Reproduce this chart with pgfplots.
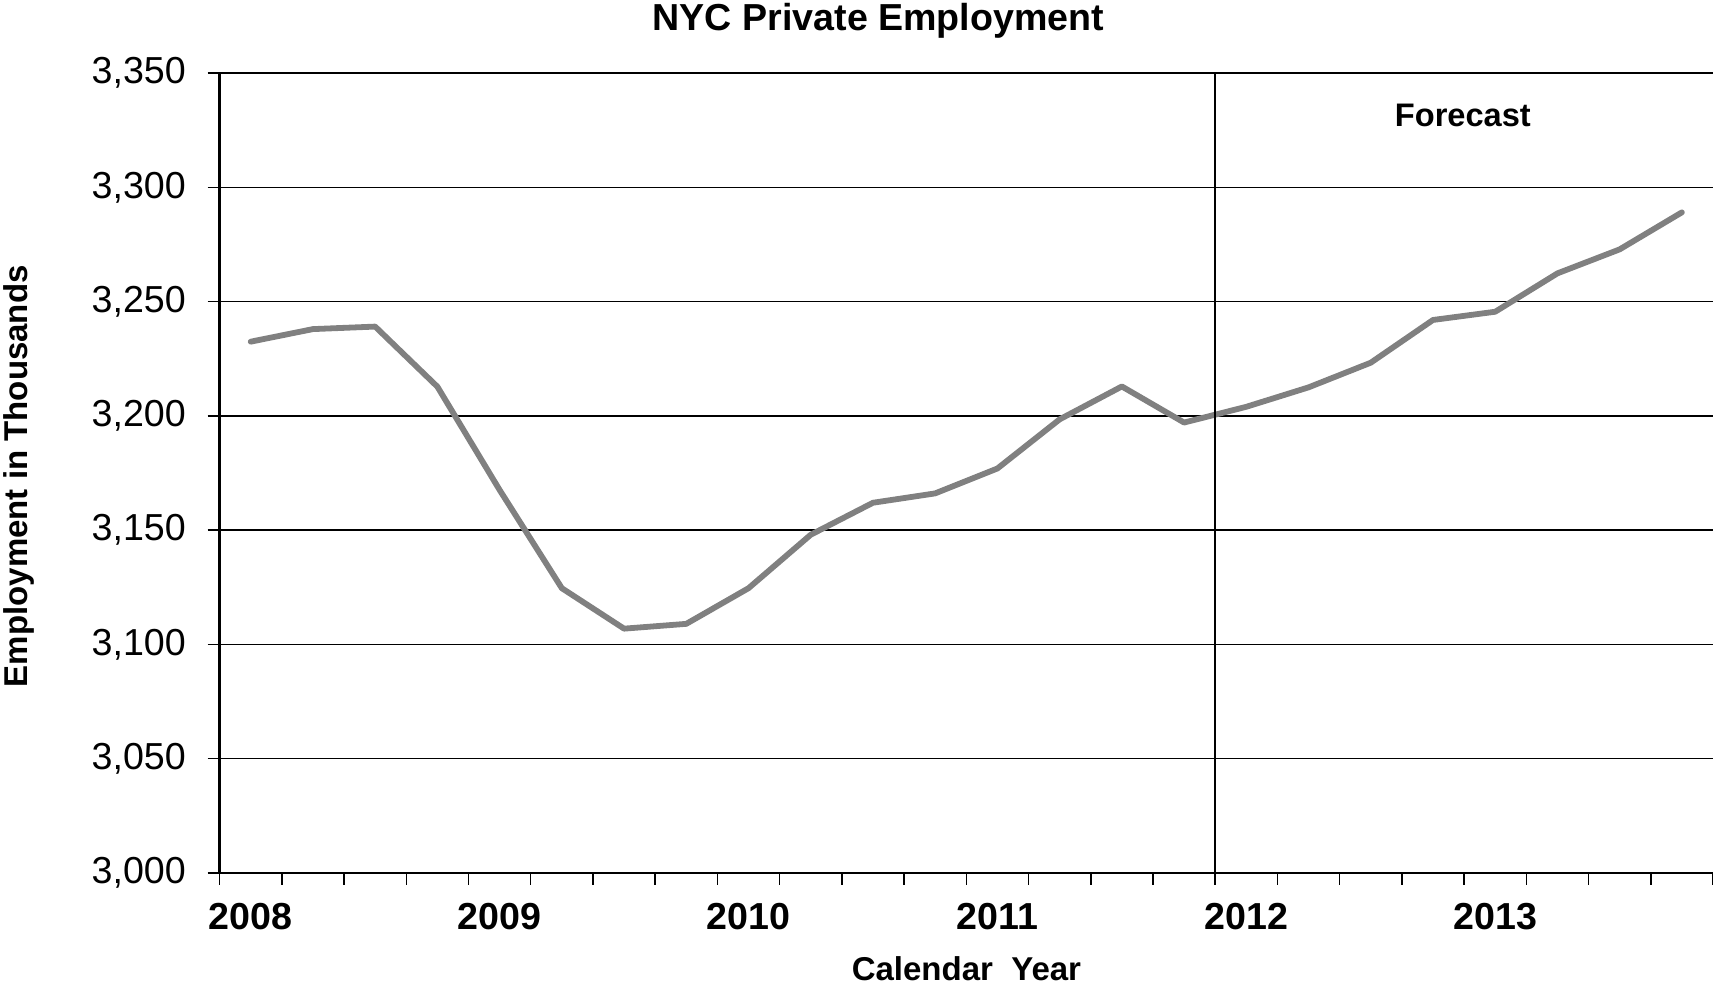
\documentclass[border=0pt]{standalone}
\usepackage{fontspec}
\setmainfont{Liberation Sans}
\usepackage{pgfplots}
\pgfplotsset{compat=1.18}
\definecolor{linegray}{RGB}{128,128,128}
\begin{document}
\begin{tikzpicture}
\path[use as bounding box] (0,0) rectangle (856.5bp,493bp);
\begin{axis}[
  at={(109.8bp,56.55bp)}, anchor=south west,
  scale only axis, width=746.7bp, height=399.85bp,
  xmin=-0.5, xmax=23.5, ymin=3000, ymax=3350,
  axis lines*=left,
  axis line style={black, line width=1.25bp},
  ytick={3000,3050,...,3350},
  scaled y ticks=false,
  /pgf/number format/assume math mode=true,
  /pgf/number format/1000 sep={,},
  ymajorgrids,
  major grid style={black, line width=0.75bp},
  xtick={-0.5,0.5,...,23.5},
  xticklabels={},
  extra x ticks={0,4,8,12,16,20},
  extra x tick labels={2008,2009,2010,2011,2012,2013},
  extra x tick style={major tick length=0pt, grid=none,
     xticklabel style={font=\bfseries\fontsize{18.8bp}{20bp}\selectfont, anchor=north, inner sep=0pt, yshift=-14.75bp}},
  tick align=outside,
  major tick length=6bp,
  tick style={black, line width=0.75bp},
  yticklabel style={font=\fontsize{18.8bp}{20bp}\selectfont, anchor=east, inner sep=0pt, xshift=-10.7bp},
  clip=false,
]
\addplot[color=linegray, line width=2.9bp, line join=round, line cap=round] coordinates {
 (0,3232.5) (1,3238.0) (2,3239.1) (3,3212.8) (4,3167.6) (5,3124.6)
 (6,3106.9) (7,3109.0) (8,3124.6) (9,3148.0) (10,3162.0) (11,3166.1)
 (12,3177.0) (13,3198.5) (14,3212.9) (15,3197.1) (16,3204.0) (17,3212.5)
 (18,3223.3) (19,3242.0) (20,3245.6) (21,3262.4) (22,3272.9) (23,3289.1)
};
\draw[black, line width=1bp] (axis cs:15.5,3000) -- (axis cs:15.5,3350);
\node[font=\bfseries\fontsize{16.3bp}{18bp}\selectfont] at (axis cs:19.48,3331.4) {Forecast};
\end{axis}
\node[font=\bfseries\fontsize{18.8bp}{20bp}\selectfont] at (439.2bp,482.6bp) {NYC Private Employment};
\node[font=\bfseries\fontsize{16.5bp}{18bp}\selectfont] at (483.2bp,8.5bp) {Calendar\ \ Year};
\node[font=\bfseries\fontsize{16.5bp}{18bp}\selectfont, rotate=90] at (9.6bp,254.9bp) {Employment in Thousands};
\end{tikzpicture}
\end{document}
